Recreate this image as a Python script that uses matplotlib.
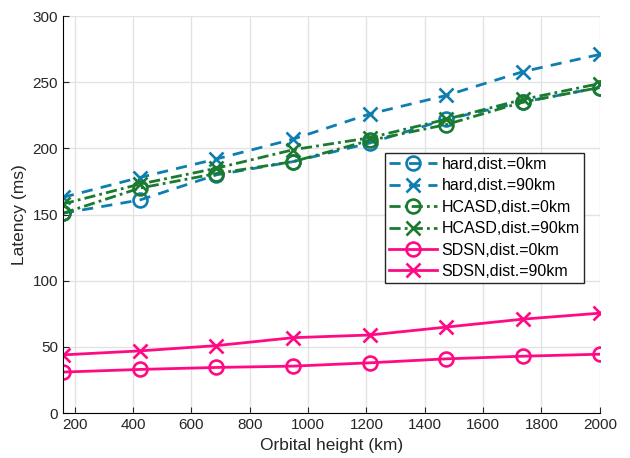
import numpy as np
import matplotlib.pyplot as plt

plt.rcParams['font.family'] = ['Liberation Sans', 'DejaVu Sans']

# orbital heights (km)
heights = [160, 423, 686, 949, 1211, 1474, 1737, 2000]

hard_0 = [151, 161, 180, 190, 204, 222, 235, 246]
hard_90 = [163, 178, 192, 207, 226, 240, 258, 271]
hcasd_0 = [151, 170, 181, 190, 206, 218, 235, 246]
hcasd_90 = [158, 173, 185, 199, 208, 222, 237, 249]
sdsn_0 = [31, 33, 34.5, 35.5, 38, 41, 43, 44.5]
sdsn_90 = [44, 47, 51, 57, 59, 65, 71, 75.5]

labels = ['hard,dist.=0km', 'hard,dist.=90km', 'HCASD,dist.=0km',
          'HCASD,dist.=90km', 'SDSN,dist.=0km', 'SDSN,dist.=90km']

blue = '#0e7db0'
green = '#1a7a2e'
pink = '#ff0a84'

fig = plt.figure(figsize=(6.3, 4.58), dpi=100)
ax = fig.add_axes([0.1, 0.098, 0.852, 0.867])

ms = 10
mew = 1.9
lw = 2
dash = (4, 3)
dashdot = (4, 1.5, 1, 1.5)
ax.plot(heights, hard_0, color=blue, dashes=dash, marker='o', mfc='none', ms=ms, mew=mew, lw=lw, label=labels[0])
ax.plot(heights, hard_90, color=blue, dashes=dash, marker='x', ms=ms, mew=mew, lw=lw, label=labels[1])
ax.plot(heights, hcasd_0, color=green, dashes=dashdot, marker='o', mfc='none', ms=ms, mew=mew, lw=lw, label=labels[2])
ax.plot(heights, hcasd_90, color=green, dashes=dashdot, marker='x', ms=ms, mew=mew, lw=lw, label=labels[3])
ax.plot(heights, sdsn_0, '-', color=pink, marker='o', mfc='none', ms=ms, mew=mew, lw=lw, label=labels[4])
ax.plot(heights, sdsn_90, '-', color=pink, marker='x', ms=ms, mew=mew, lw=lw, label=labels[5])

ax.set_xlim(160, 2000)
ax.set_ylim(0, 300)
ax.set_xticks(np.arange(200, 2001, 200))
ax.set_yticks(np.arange(0, 301, 50))
ax.grid(True, color='#e3e3e3', lw=1)
ax.set_axisbelow(True)
for s in ['top', 'right']:
    ax.spines[s].set_visible(False)
ax.tick_params(direction='in', labelsize=11, colors='#262626', length=4)
ax.set_xlabel('Orbital height (km)', fontsize=12.5, color='#262626')
ax.set_ylabel('Latency (ms)', fontsize=12.5, color='#262626')

leg = ax.legend(loc='upper left', bbox_to_anchor=(0.6, 0.655), fontsize=11.5,
                fancybox=False, edgecolor='#262626', framealpha=1,
                handlelength=3.0, borderpad=0.25, labelspacing=0.4, handletextpad=0.3,
                borderaxespad=0)
leg.get_frame().set_linewidth(1)

fig.savefig('out.png')
